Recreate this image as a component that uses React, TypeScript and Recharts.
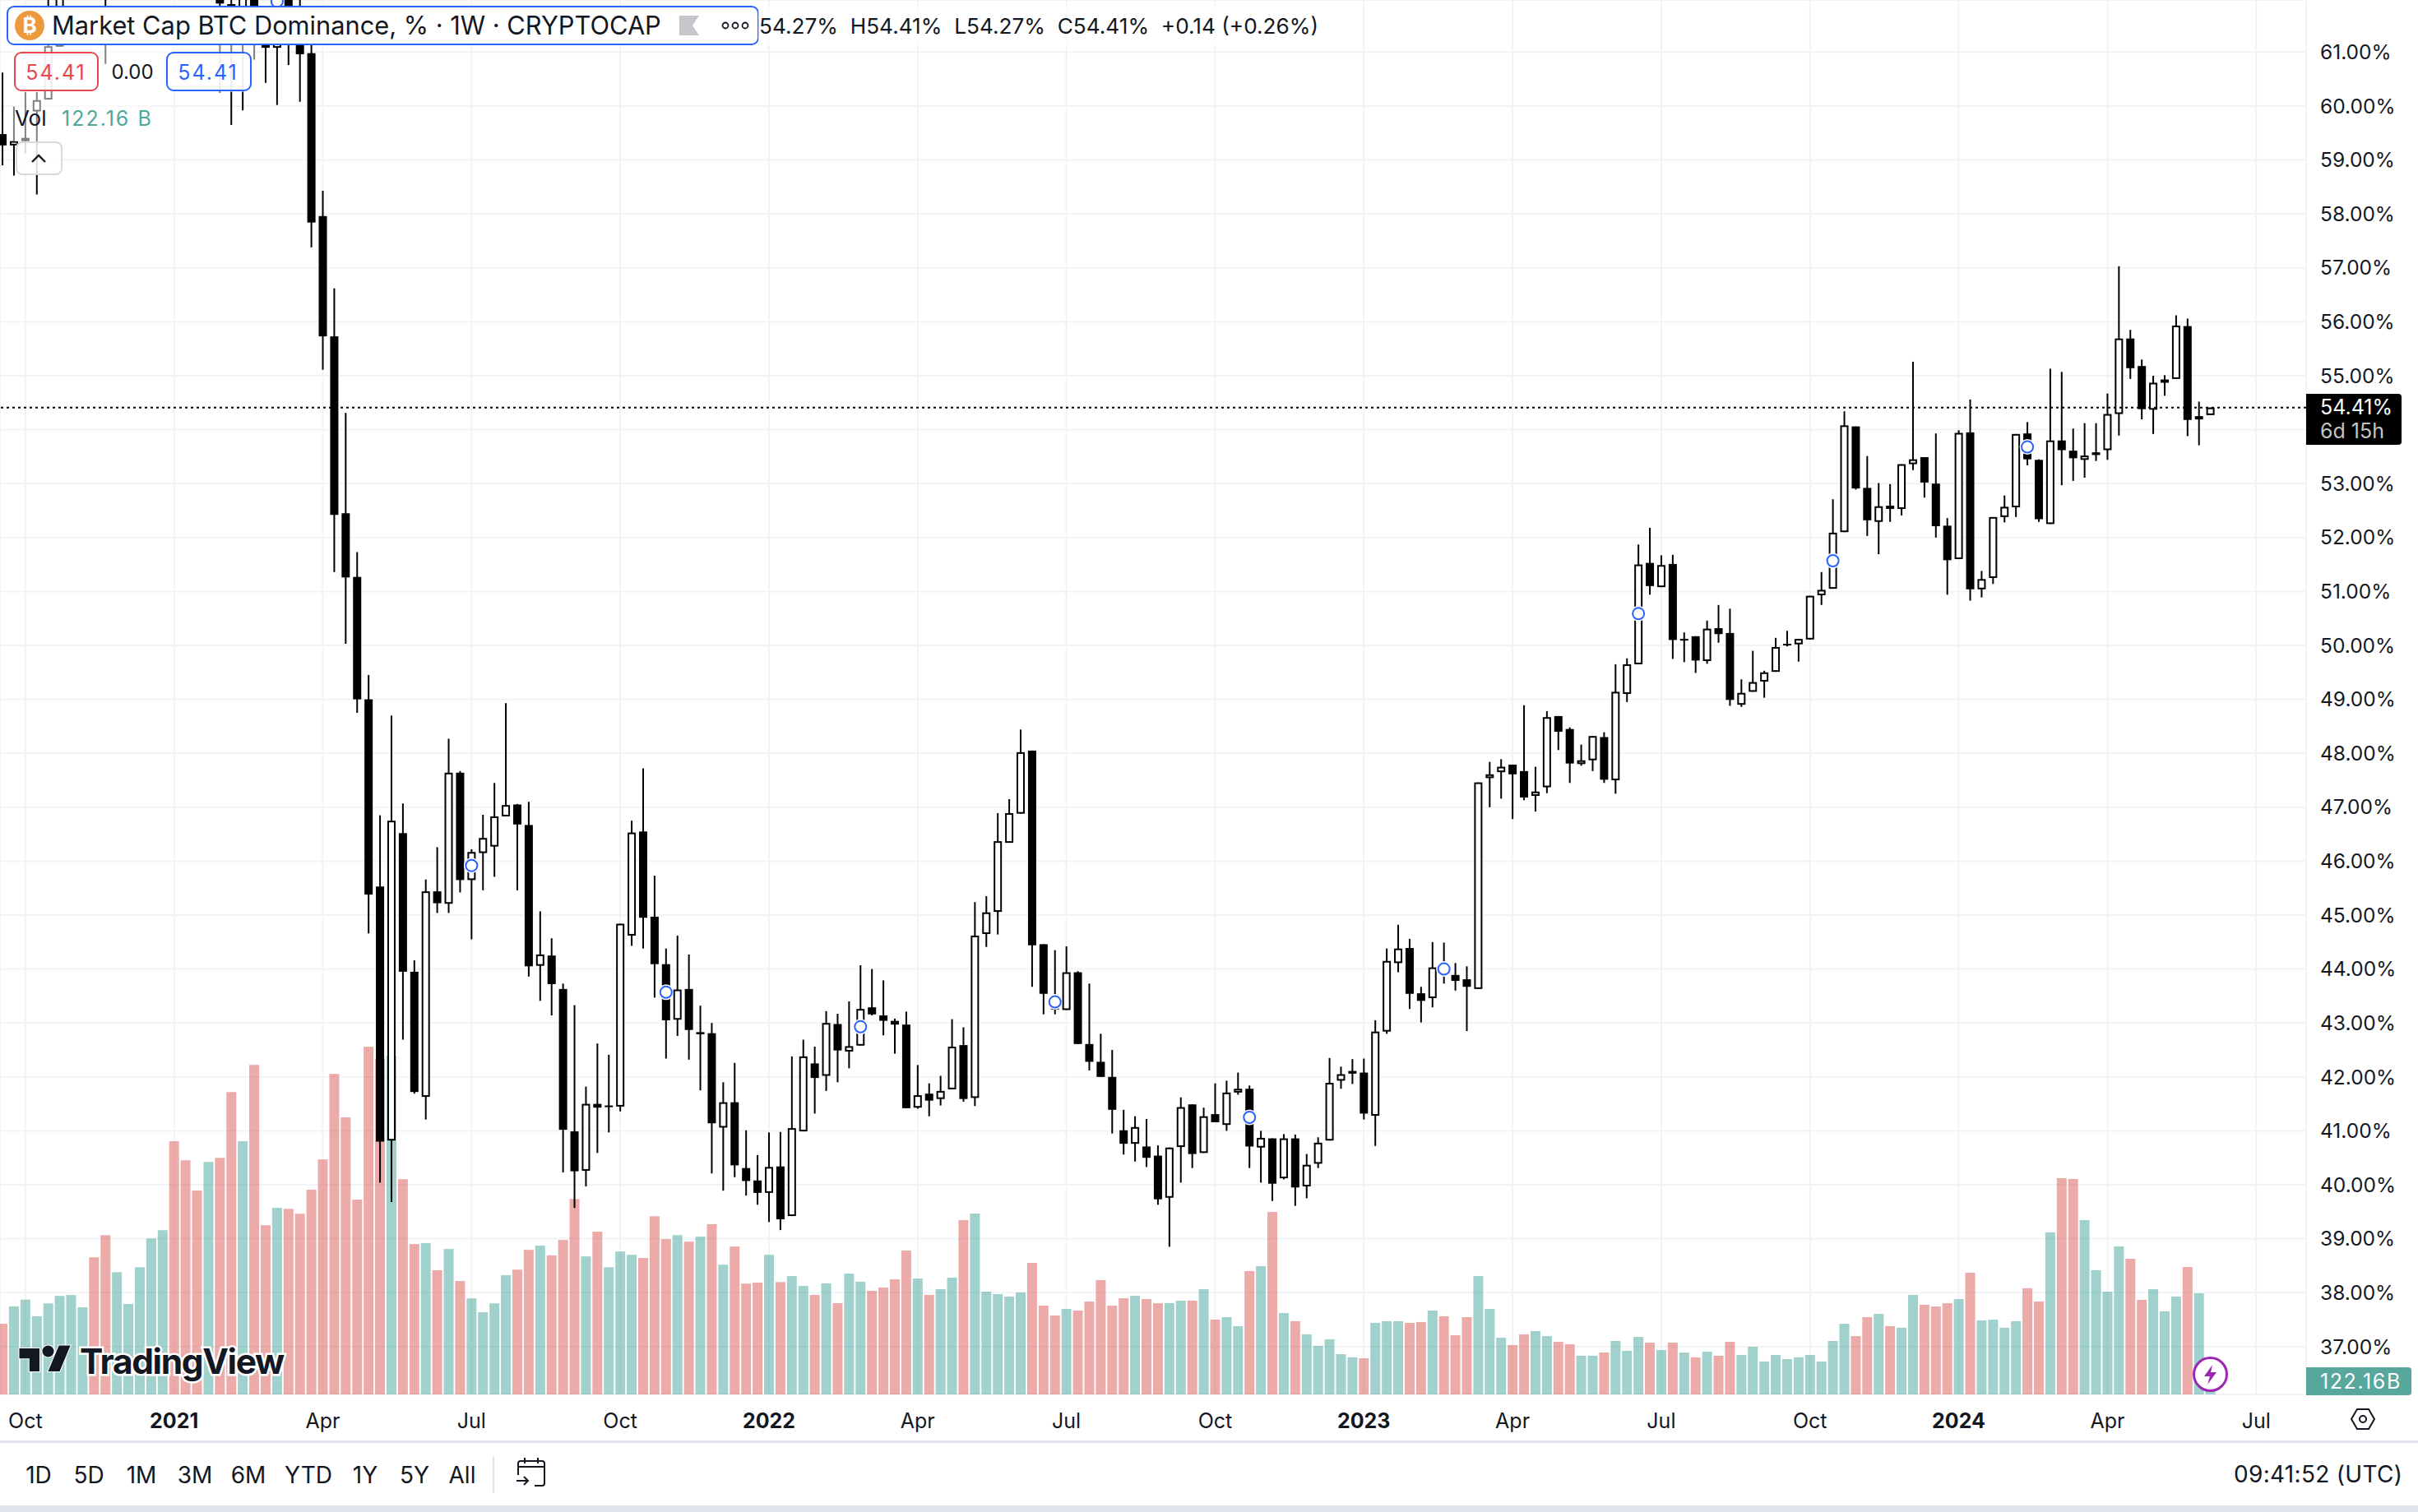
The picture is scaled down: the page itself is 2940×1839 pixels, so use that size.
import { Bar, CartesianGrid, ComposedChart, ReferenceLine, XAxis, YAxis } from 'recharts';

// weekly candles, oldest first. candles 6-18 are above the visible price range
const opens = [
  59.48, 59.27, 59.35, 59.9, 60.12, 61.1, 63.0, 63.8, 64.6, 64.5,
  63.0, 65.0, 65.9, 67.4, 68.7, 70.1, 69.0, 67.5, 68.4, 64.4,
  61.89, 61.3, 62.8, 61.5, 61.08, 62.4, 61.5, 60.98, 57.96, 55.73,
  52.45, 51.27, 49.0, 45.53, 40.82, 46.52, 43.95, 41.63, 45.44, 45.21,
  47.64, 45.65, 46.15, 46.27, 46.83, 47.05, 46.67, 44.06, 44.25, 43.63,
  40.99, 40.26, 41.5, 41.47, 41.45, 44.62, 46.55, 44.97, 44.09, 43.06,
  43.63, 42.83, 42.81, 41.06, 41.53, 40.31, 40.08, 39.85, 40.34, 39.42,
  40.99, 42.25, 42.02, 42.98, 42.47, 42.58, 43.29, 43.14, 43.04, 42.97,
  41.43, 41.69, 41.59, 41.77, 42.59, 41.61, 44.65, 45.06, 46.34, 46.88,
  48.05, 44.46, 43.25, 43.24, 43.94, 42.61, 42.28, 42.0, 41.01, 40.76,
  40.71, 40.54, 39.76, 40.7, 41.49, 40.59, 41.31, 41.11, 41.71, 41.78,
  40.69, 40.86, 40.12, 40.86, 39.97, 40.39, 40.82, 41.93, 42.06, 42.08,
  41.28, 42.84, 44.11, 44.39, 43.55, 43.46, 44.05, 43.89, 43.81, 43.63,
  47.54, 47.65, 47.79, 47.67, 47.21, 47.37, 48.69, 48.45, 47.8, 47.87,
  48.3, 47.5, 49.1, 49.65, 51.53, 51.08, 51.51, 50.12, 50.17, 49.71,
  50.32, 50.23, 48.9, 49.14, 49.33, 49.51, 50.03, 50.02, 50.11, 50.93,
  51.05, 52.1, 54.06, 52.92, 52.29, 52.59, 52.53, 53.36, 53.49, 53.0,
  52.22, 51.6, 53.95, 51.04, 51.25, 52.38, 52.56, 53.93, 53.44, 52.25,
  53.8, 53.61, 53.44, 53.53, 53.62, 54.29, 55.69, 55.18, 54.37, 54.87,
  54.94, 55.92, 54.19, 54.27,
];
const highs = [
  60.62, 59.99, 60.26, 60.26, 62.4, 63.6, 64.2, 65.0, 66.2, 66.0,
  65.6, 66.5, 68.2, 69.4, 70.8, 71.9, 70.0, 69.2, 69.5, 65.2,
  62.3, 63.4, 63.2, 61.8, 62.2, 62.8, 62.3, 61.3, 58.43, 56.62,
  54.31, 51.73, 49.45, 46.85, 48.7, 47.07, 44.16, 45.66, 46.26, 48.27,
  47.67, 46.22, 46.86, 47.45, 48.93, 47.06, 47.1, 45.07, 44.57, 43.73,
  43.33, 41.82, 42.62, 42.41, 44.84, 46.75, 47.72, 45.73, 44.38, 44.62,
  44.27, 43.32, 43.0, 41.9, 42.26, 41.01, 40.55, 40.97, 40.98, 42.38,
  42.69, 42.56, 43.22, 43.17, 43.4, 44.07, 44.0, 43.79, 43.08, 43.21,
  42.22, 41.88, 42.02, 43.07, 42.92, 45.24, 45.35, 46.89, 47.15, 48.44,
  48.05, 44.46, 44.35, 44.42, 43.96, 43.73, 42.8, 42.5, 41.39, 41.27,
  41.22, 40.73, 40.69, 41.62, 41.49, 41.43, 41.88, 41.93, 42.08, 41.84,
  41.0, 40.86, 40.94, 40.93, 40.57, 40.88, 42.35, 42.19, 42.33, 42.34,
  43.05, 44.38, 44.82, 44.56, 43.67, 44.5, 44.49, 44.11, 44.05, 47.46,
  47.84, 47.89, 47.79, 48.89, 47.75, 48.78, 48.69, 48.48, 48.16, 48.32,
  48.39, 49.65, 49.76, 51.87, 52.18, 51.67, 51.68, 50.24, 50.17, 50.46,
  50.75, 50.68, 49.37, 49.9, 49.53, 50.14, 50.27, 50.12, 50.92, 51.36,
  52.71, 54.34, 54.06, 53.51, 53.01, 52.99, 53.36, 55.26, 53.49, 53.93,
  52.36, 53.99, 54.56, 51.38, 52.38, 52.78, 53.92, 54.14, 53.45, 55.13,
  55.07, 54.02, 54.12, 54.12, 54.67, 57.03, 55.85, 55.3, 55.0, 55.01,
  56.12, 56.06, 54.52, 54.41,
];
const lows = [
  58.9, 58.71, 59.12, 58.36, 60.12, 61.1, 62.6, 63.1, 64.0, 60.78,
  62.4, 64.1, 65.2, 66.8, 67.9, 67.8, 66.6, 66.4, 63.8, 60.25,
  59.65, 59.92, 60.86, 60.43, 60.02, 60.76, 60.08, 57.38, 55.11, 51.36,
  50.03, 48.75, 44.66, 40.04, 39.68, 42.69, 41.69, 41.21, 45.04, 45.04,
  45.42, 44.55, 45.46, 45.71, 46.83, 45.46, 43.86, 43.41, 43.14, 40.23,
  39.57, 39.97, 40.59, 40.97, 41.36, 44.43, 44.38, 43.47, 42.34, 42.76,
  42.32, 41.75, 40.21, 39.89, 40.14, 39.8, 39.63, 39.31, 39.16, 39.42,
  40.99, 41.32, 41.74, 41.9, 42.16, 42.58, 43.14, 42.77, 42.43, 41.42,
  41.41, 41.27, 41.47, 41.77, 41.54, 41.46, 44.41, 44.64, 46.34, 46.88,
  43.67, 43.16, 43.16, 43.24, 42.61, 42.12, 42.0, 40.95, 40.56, 40.43,
  40.33, 39.63, 38.85, 40.04, 40.31, 40.59, 41.16, 41.0, 41.67, 40.31,
  40.04, 39.7, 40.1, 39.61, 39.75, 40.31, 40.82, 41.78, 41.87, 41.21,
  40.72, 42.8, 43.94, 43.26, 43.01, 43.29, 43.73, 43.6, 42.85, 43.63,
  47.0, 47.16, 46.78, 47.13, 46.92, 47.26, 48.06, 47.45, 47.77, 47.67,
  47.45, 47.25, 48.95, 49.65, 50.94, 51.08, 49.75, 49.69, 49.49, 49.66,
  50.05, 48.88, 48.86, 49.14, 49.03, 49.51, 49.98, 49.7, 50.11, 50.75,
  51.05, 52.1, 52.89, 52.03, 51.69, 52.29, 52.41, 53.25, 52.74, 52.0,
  50.94, 51.6, 50.83, 50.89, 51.14, 52.28, 52.38, 53.34, 52.29, 52.25,
  52.97, 53.05, 53.11, 53.42, 53.44, 53.89, 54.94, 54.19, 53.92, 54.63,
  54.94, 53.88, 53.71, 54.27,
];
const closes = [
  59.27, 59.35, 59.41, 60.11, 61.11, 63.0, 63.8, 64.6, 65.7, 63.0,
  65.0, 65.9, 67.4, 68.7, 70.1, 69.0, 67.5, 68.4, 64.4, 61.9,
  61.84, 62.8, 61.5, 61.08, 61.7, 61.3, 60.96, 57.84, 55.73, 52.42,
  51.26, 49.0, 45.38, 40.8, 46.75, 43.95, 41.72, 45.44, 45.22, 47.64,
  45.65, 46.17, 46.43, 46.83, 47.04, 46.68, 44.05, 44.27, 43.72, 41.02,
  40.25, 41.5, 41.43, 41.45, 44.84, 46.53, 44.95, 44.09, 43.05, 43.62,
  42.87, 42.79, 41.14, 41.53, 40.36, 40.07, 39.85, 40.33, 39.36, 41.05,
  42.38, 41.98, 43.0, 42.49, 42.57, 43.26, 43.16, 43.04, 42.97, 41.42,
  41.66, 41.56, 41.74, 42.56, 41.59, 44.62, 45.05, 46.37, 46.89, 48.02,
  44.44, 43.54, 43.5, 43.94, 42.61, 42.28, 42.0, 41.39, 40.76, 41.07,
  40.5, 39.73, 40.69, 41.44, 40.57, 41.27, 41.16, 41.71, 41.78, 40.71,
  40.87, 40.02, 40.86, 39.95, 40.37, 40.78, 41.89, 42.05, 42.11, 41.32,
  42.84, 44.15, 44.38, 43.54, 43.41, 44.03, 43.93, 43.78, 43.67, 47.46,
  47.61, 47.75, 47.61, 47.18, 47.29, 48.67, 48.4, 47.81, 47.87, 48.32,
  47.51, 49.14, 49.65, 51.5, 51.1, 51.49, 50.1, 50.1, 49.72, 50.31,
  50.21, 48.99, 49.12, 49.32, 49.5, 49.97, 50.01, 50.12, 50.92, 51.03,
  52.09, 54.08, 52.91, 52.32, 52.58, 52.53, 53.36, 53.45, 53.02, 52.21,
  51.58, 53.94, 51.04, 51.23, 52.38, 52.57, 53.92, 53.45, 52.34, 53.8,
  53.62, 53.47, 53.52, 53.58, 54.29, 55.69, 55.14, 54.38, 54.87, 54.93,
  55.93, 54.18, 54.25, 54.41,
];

// volume in billions, same order as the candles
const volumes = [
  700, 872, 939, 774, 902, 976, 985, 863, 1358, 1578,
  1211, 896, 1260, 1545, 1627, 2508, 2319, 2019, 2303, 2343,
  2995, 2508, 3264, 1676, 1848, 1838, 1790, 2028, 2328, 3175,
  2744, 1930, 3444, 3323, 3355, 2132, 1490, 1499, 1230, 1441,
  1123, 951, 814, 902, 1181, 1236, 1432, 1474, 1377, 1530,
  1936, 1367, 1612, 1260, 1416, 1383, 1352, 1765, 1539, 1578,
  1514, 1563, 1686, 1285, 1465, 1098, 1107, 1383, 1113, 1172,
  1074, 985, 1100, 904, 1197, 1116, 1026, 1059, 1140, 1425,
  1148, 986, 1043, 1157, 1727, 1792, 1018, 994, 969, 1010,
  1303, 880, 782, 847, 831, 920, 1132, 880, 953, 977,
  945, 904, 904, 929, 929, 1043, 741, 766, 676, 1222,
  1271, 1808, 806, 725, 595, 481, 546, 399, 367, 358,
  709, 725, 725, 709, 717, 831, 774, 586, 766, 1173,
  847, 562, 489, 595, 627, 578, 521, 497, 383, 383,
  415, 529, 432, 570, 513, 440, 513, 415, 367, 424,
  383, 521, 391, 472, 326, 391, 350, 367, 391, 326,
  529, 700, 578, 766, 798, 676, 660, 986, 888, 871,
  904, 945, 1205, 733, 741, 660, 725, 1051, 920, 1605,
  2142, 2134, 1727, 1230, 1018, 1466, 1344, 937, 1043, 823,
  969, 1262, 1002, 122.16,
];
// u = teal bar, d = red bar, ten weeks per chunk
const volumeSides = [
  'duuuuuuudd', 'uuuuudddud', 'dudduddddd', 'dddduddudu', 'duuuuddudd',
  'duduuudddu', 'dududddudu', 'ududuudddd', 'uduuduuuuu', 'dddudddddu',
  'dduududuud', 'ududuuuuud', 'uuuddudddu', 'uudduudduu', 'duuudududu',
  'dduuuuuuuu', 'uudduduudd', 'duduuuuddu', 'dduuuudduu', 'uduu',
].join('');

// blue event rings: candle index and the price they sit on
const eventWeeks = [24, 41, 58, 75, 92, 109, 126, 143, 160, 177];
const eventPrices = [61.94, 45.92, 43.57, 42.93, 43.39, 41.25, 44.0, 50.59, 51.57, 53.68];

const timeTicks = [2, 15, 28, 41, 54, 67, 80, 93, 106, 119, 132, 145, 158, 171, 184, 197];
const timeLabels = ['Oct', '2021', 'Apr', 'Jul', 'Oct', '2022', 'Apr', 'Jul', 'Oct', '2023', 'Apr', 'Jul', 'Oct', '2024', 'Apr', 'Jul'];
const priceTicks = [37, 38, 39, 40, 41, 42, 43, 44, 45, 46, 47, 48, 49, 50, 51, 52, 53, 54, 55, 56, 57, 58, 59, 60, 61];
const rangeButtons = ['1D', '5D', '1M', '3M', '6M', 'YTD', '1Y', '5Y', 'All'];
const rangeButtonCenters = [47, 108, 172, 237, 302, 375, 444, 504, 562];

const lastPrice = 54.41;

const rows = opens.map((open, i) => {
  const eventAt = eventWeeks.indexOf(i);
  return {
    i,
    open,
    close: closes[i],
    high: highs[i],
    low: lows[i],
    range: [lows[i], highs[i]],
    volume: volumes[i],
    side: volumeSides[i],
    event: eventAt >= 0 ? eventPrices[eventAt] : null,
  };
});

const FONT = 'Inter, "Noto Sans", sans-serif';
const INK = '#131722';

function Candle(props: any) {
  const { x, y, width, height, payload } = props;
  const { open, close, high, low, event } = payload;
  const perUnit = height / (high - low);
  const yOf = (v: number) => y + (high - v) * perUnit;
  const mid = x + width / 2;
  const top = yOf(Math.max(open, close));
  const bottom = yOf(Math.min(open, close));
  const isUp = close >= open;
  return (
    <g>
      <rect x={mid - 1} y={y} width={2} height={height} fill="#000" />
      {isUp ? (
        <rect x={x + 1} y={top + 1} width={width - 2} height={Math.max(bottom - top - 2, 1)} fill="#fff" stroke="#000" strokeWidth={2} />
      ) : (
        <rect x={x} y={top} width={width} height={Math.max(bottom - top, 2)} fill="#000" />
      )}
      {event != null && (
        <>
          <circle cx={mid} cy={yOf(event)} r={9.5} fill="#fff" />
          <circle cx={mid} cy={yOf(event)} r={7} fill="#fff" stroke="#2962ff" strokeWidth={2} />
        </>
      )}
    </g>
  );
}

function VolumeBar(props: any) {
  const { x, y, width, height, payload } = props;
  const fill = payload.side === 'u' ? '#41a399' : '#d95753';
  return <rect x={x} y={y} width={width} height={height} fill={fill} fillOpacity={0.5} />;
}

function TimeTick(props: any) {
  const { x, y, payload } = props;
  const label = timeLabels[timeTicks.indexOf(payload.value)];
  const isYear = label.length === 4;
  return (
    <text x={x} y={y + 29.5} textAnchor="middle" dominantBaseline="central" fontFamily={FONT} fontSize={25} fontWeight={isYear ? 700 : 400} fill={INK}>
      {label}
    </text>
  );
}

function Label({ left, top, size = 25, color = INK, center = false, weight = 400, spacing = 0, children }: any) {
  return (
    <div
      style={{
        position: 'absolute',
        left,
        top,
        transform: center ? 'translate(-50%, -50%)' : 'translateY(-50%)',
        fontFamily: FONT,
        fontSize: size,
        fontWeight: weight,
        letterSpacing: spacing,
        color,
        whiteSpace: 'pre',
        lineHeight: 1,
      }}
    >
      {children}
    </div>
  );
}

function Box({ left, top, width, height, style }: any) {
  return <div style={{ position: 'absolute', left, top, width, height, boxSizing: 'border-box', ...style }} />;
}

function Legend() {
  return (
    <>
      <Box left={16} top={54} width={294} height={58} style={{ background: 'rgba(255,255,255,0.5)' }} />
      <Box left={16} top={112} width={170} height={60} style={{ background: 'rgba(255,255,255,0.5)' }} />
      <Box left={8} top={7} width={915} height={48} style={{ background: '#fff', border: '2px solid #2962ff', borderRadius: 9 }} />
      <Box left={18} top={13} width={36} height={36} style={{ background: '#ed9a3f', borderRadius: '50%' }} />
      <Label left={36} top={31} size={26} color="#fff" center weight={700}>₿</Label>
      <Label left={63} top={31} size={30.8}>Market Cap BTC Dominance, % · 1W · CRYPTOCAP</Label>
      <svg style={{ position: 'absolute', left: 826, top: 19 }} width={24} height={24}>
        <path d="M0 0H24L16 12L24 24H0Z" fill="#c4c6cc" />
      </svg>
      <svg style={{ position: 'absolute', left: 876, top: 24 }} width={36} height={14}>
        <circle cx={6} cy={7} r={3.5} fill="none" stroke={INK} strokeWidth={1.8} />
        <circle cx={18} cy={7} r={3.5} fill="none" stroke={INK} strokeWidth={1.8} />
        <circle cx={30} cy={7} r={3.5} fill="none" stroke={INK} strokeWidth={1.8} />
      </svg>
      <Box left={922} top={8} width={690} height={48} style={{ background: 'rgba(255,255,255,0.7)' }} />
      <Label left={923} top={32} size={26.2}>54.27%  H54.41%  L54.27%  C54.41%  +0.14 (+0.26%)</Label>

      <Box left={17} top={63} width={103} height={48} style={{ background: 'rgba(255,255,255,0.85)', border: '2px solid #e5484d', borderRadius: 9 }} />
      <Label left={68} top={88} size={25} spacing={2} color="#e5484d" center>54.41</Label>
      <Label left={161} top={88} size={24} center>0.00</Label>
      <Box left={202} top={63} width={104} height={48} style={{ background: 'rgba(255,255,255,0.85)', border: '2px solid #2962ff', borderRadius: 9 }} />
      <Label left={253} top={88} size={25} spacing={2} color="#2962ff" center>54.41</Label>
      <Label left={18} top={144} size={26}>Vol</Label>
      <Label left={75} top={144} size={25} spacing={2} color="#4fa79c">122.16 B</Label>

      <Box left={19} top={172} width={57} height={41} style={{ background: 'rgba(255,255,255,0.85)', border: '2px solid #d8d9dd', borderRadius: 8 }} />
      <svg style={{ position: 'absolute', left: 36, top: 186 }} width={22} height={14}>
        <path d="M3 11L11 3L19 11" fill="none" stroke={INK} strokeWidth={2.4} />
      </svg>
    </>
  );
}

function Watermark() {
  return (
    <>
      <svg style={{ position: 'absolute', left: 20, top: 1626, overflow: 'visible' }} width={70} height={50} viewBox="0 0 40 28.5">
        <g fill={INK} stroke="#fff" strokeWidth={1.2} paintOrder="stroke">
          <path d="M14 6H0v7h7v9h7V6Z" transform="translate(2 2)" />
          <circle cx={22} cy={10} r={4} />
          <path d="M28 22h-8l7.5-18h8L28 22Z" transform="translate(2 2)" />
        </g>
      </svg>
      <div
        style={{
          position: 'absolute',
          left: 97,
          top: 1656,
          transform: 'translateY(-50%)',
          fontFamily: FONT,
          fontSize: 42.5,
          fontWeight: 700,
          letterSpacing: -1.4,
          color: INK,
          lineHeight: 1,
          WebkitTextStroke: '5px #fff',
          paintOrder: 'stroke fill',
        }}
      >
        TradingView
      </div>
    </>
  );
}

function PriceTags() {
  return (
    <>
      <Box left={2804} top={479} width={116} height={62} style={{ background: '#000', borderRadius: '0 4px 4px 0' }} />
      <Label left={2821} top={495} size={25} color="#fff">54.41%</Label>
      <Label left={2821} top={524} size={25} color="#c4c4c4">6d 15h</Label>
      <Box left={2804} top={1663} width={128} height={34} style={{ background: '#58a79c', borderRadius: '0 4px 4px 0' }} />
      <Label left={2821} top={1680} size={25} spacing={1.6} color="#fff">122.16B</Label>
      <Box left={2666} top={1650} width={43} height={43} style={{ background: '#fff', border: '3px solid #9c27b0', borderRadius: '50%' }} />
      <svg style={{ position: 'absolute', left: 2677, top: 1659 }} width={21} height={26} viewBox="0 0 21 26">
        <path d="M13 1L3 15H10L7 25L18 10H11Z" fill="#9c27b0" />
      </svg>
      <svg style={{ position: 'absolute', left: 2857, top: 1712 }} width={32} height={28} viewBox="0 0 32 28">
        <path d="M9 2H23L30 14L23 26H9L2 14Z" fill="none" stroke={INK} strokeWidth={2} />
        <circle cx={16} cy={14} r={4} fill="none" stroke={INK} strokeWidth={2} />
      </svg>
    </>
  );
}

function BottomBar() {
  return (
    <>
      <Box left={0} top={1752} width={2940} height={3} style={{ background: '#e0e3eb' }} />
      {rangeButtons.map((label, i) => (
        <Label key={label} left={rangeButtonCenters[i]} top={1794} size={28} center>
          {label}
        </Label>
      ))}
      <Box left={599} top={1771} width={2} height={44} style={{ background: '#e0e3eb' }} />
      <svg style={{ position: 'absolute', left: 626, top: 1772 }} width={40} height={38} viewBox="0 0 40 38">
        <path d="M4 22V8a3 3 0 0 1 3-3H33a3 3 0 0 1 3 3V32a3 3 0 0 1-3 3H24M4 12H36M12 1V8M28 1V8M2 29H16M11 24L16 29L11 34" fill="none" stroke={INK} strokeWidth={2} />
      </svg>
      <Label left={2716} top={1793} size={28} spacing={0.3}>09:41:52 (UTC)</Label>
      <Box left={0} top={1831} width={2940} height={8} style={{ background: '#e0e3eb' }} />
    </>
  );
}

export default function App() {
  return (
    <div style={{ position: 'absolute', left: 0, top: 0, width: 2940, height: 1839, background: '#fff', overflow: 'hidden' }}>
      <ComposedChart width={2940} height={1753} data={rows} margin={{ top: 0, right: 0, bottom: 0, left: 0 }}>
        <CartesianGrid stroke="#f2f3f5" strokeWidth={2} />
        <XAxis
          dataKey="i"
          type="number"
          domain={[-0.2157, 201.37]}
          allowDataOverflow
          ticks={timeTicks}
          interval={0}
          height={57}
          axisLine={false}
          tickLine={false}
          tickSize={0}
          tick={<TimeTick />}
        />
        <XAxis xAxisId="vol" dataKey="i" type="number" domain={[-0.2157, 201.37]} allowDataOverflow hide />
        <YAxis
          orientation="right"
          width={136}
          domain={[36.113, 61.966]}
          allowDataOverflow
          ticks={priceTicks}
          interval={0}
          axisLine={false}
          tickLine={false}
          tickSize={0}
          tickMargin={17}
          tick={{ fill: INK, fontSize: 24.5, fontFamily: FONT }}
          // 54 has a grid line, its label sits under the last price tag
          tickFormatter={(v: number) => (v === 54 ? '' : `${v.toFixed(2)}%`)}
        />
        <YAxis yAxisId="vol" hide domain={[0, 13812]} allowDataOverflow />
        <Bar xAxisId="vol" yAxisId="vol" dataKey="volume" barSize={12} shape={<VolumeBar />} isAnimationActive={false} />
        <ReferenceLine y={lastPrice} stroke="#000" strokeWidth={2} strokeDasharray="3 4" />
        <Bar dataKey="range" barSize={10} shape={<Candle />} isAnimationActive={false} />
      </ComposedChart>
      <Watermark />
      <Legend />
      <PriceTags />
      <BottomBar />
    </div>
  );
}
